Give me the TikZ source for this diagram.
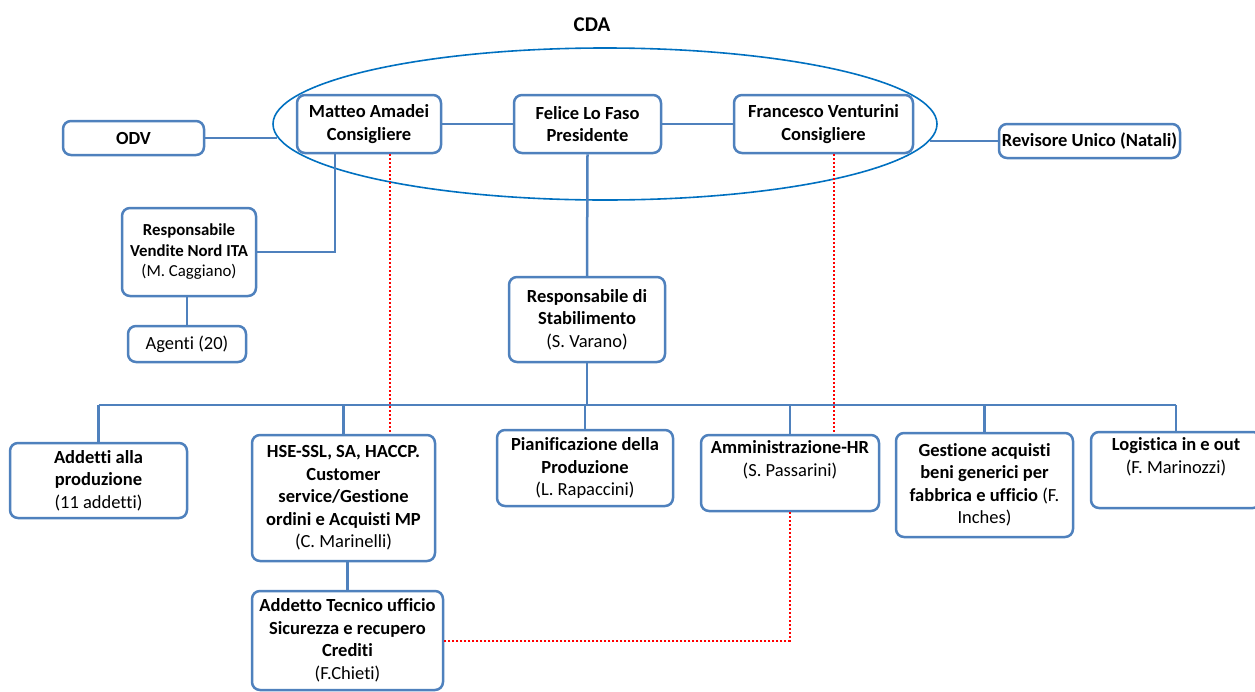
\documentclass[tikz,border=0pt]{standalone}
\usepackage{fontspec}
\setmainfont{Carlito}[Ligatures=NoCommon]
\usetikzlibrary{shapes.geometric}
\definecolor{boxblue}{RGB}{79,129,189}
\definecolor{ellblue}{RGB}{0,112,192}
\definecolor{dotred}{RGB}{255,0,0}
\begin{document}
\begin{tikzpicture}[x=1pt,y=-1pt,
  box/.style={draw=boxblue, line width=2.5pt, rounded corners=8pt, fill=white,
    inner sep=0pt, align=center, font=\fontsize{18.5}{22.5}\selectfont},
  smallbox/.style={box, font=\fontsize{16.8}{20.5}\selectfont},
  conn/.style={draw=boxblue, line width=2.5pt},
  reddot/.style={draw=dotred, line width=2pt, dash pattern=on 2pt off 2pt},
  ell/.style={draw=ellblue, line width=1.6pt, ellipse, inner sep=0pt}]
\useasboundingbox (0,0) rectangle (1255,691);

% CDA ellipse and title
\node[ell, minimum width=664, minimum height=152] (cda) at (605,124) {};
\node[font=\bfseries\fontsize{21}{25}\selectfont] (title) at (592,25) {CDA};

% top row
\node[box, minimum width=141, minimum height=34] (odv) at (133.5,138) {\textbf{ODV}};
\node[box, minimum width=144, minimum height=58] (matteo) at (369,124) {\textbf{Matteo Amadei}\\\textbf{Consigliere}};
\node[box, minimum width=147, minimum height=58] (felice) at (587.5,124) {\textbf{Felice Lo Faso}\\\textbf{Presidente}};
\node[box, minimum width=179, minimum height=58] (francesco) at (823.5,124) {\textbf{Francesco Venturini}\\\textbf{Consigliere}};
\node[box, minimum width=181, minimum height=34] (revisore) at (1089.5,141) {\textbf{Revisore Unico (Natali)}};

% second level
\node[smallbox, minimum width=134, minimum height=88] (vendite) at (189,252) {\textbf{Responsabile}\\\textbf{Vendite Nord ITA}\\(M. Caggiano)};
\node[box, minimum width=118, minimum height=36] (agenti) at (187,344) {Agenti (20)};
\node[box, minimum width=156, minimum height=85] (stab) at (587,319.5) {\textbf{Responsabile di}\\\textbf{Stabilimento}\\(S. Varano)};

% bottom row
\node[box, minimum width=177, minimum height=75] (addetti) at (98.5,480.5) {\textbf{Addetti alla}\\\textbf{produzione}\\(11 addetti)};
\node[box, minimum width=183, minimum height=126] (hse) at (343.5,498) {\textbf{HSE-SSL, SA, HACCP.}\\\textbf{Customer}\\\textbf{service/Gestione}\\\textbf{ordini e Acquisti MP}\\(C. Marinelli)};
\node[box, minimum width=176, minimum height=76] (pian) at (585,468) {\textbf{Pianificazione della}\\\textbf{Produzione}\\(L. Rapaccini)};
\node[box, minimum width=178, minimum height=76] (amm) at (790,473) {\textbf{Amministrazione-HR}\\(S. Passarini)\\\strut};
\node[box, minimum width=177, minimum height=104] (gest) at (984.5,485) {\textbf{Gestione acquisti}\\\textbf{beni generici per}\\\textbf{fabbrica e ufficio} (F.\\Inches)};
\node[box, minimum width=170, minimum height=76] (log) at (1176,470) {\textbf{Logistica in e out}\\(F. Marinozzi)\\\strut};
\node[box, minimum width=191, minimum height=99] (tec) at (347.5,640.5) {\textbf{Addetto Tecnico ufficio}\\\textbf{Sicurezza e recupero}\\\textbf{Crediti}\\(F.Chieti)};

% helper coordinates
\coordinate (odvE) at (277,138);
\coordinate (revW) at (930,141);
\coordinate (mv) at (335,0);
\coordinate (bus) at (0,405);
\coordinate (r1) at (390,0);
\coordinate (r2) at (834,0);

% blue connectors
\draw[conn] (odv.east) -- (odvE);
\draw[conn] (revisore.west) -- (revW);
\draw[conn] (matteo.east) -- (felice.west);
\draw[conn] (felice.east) -- (francesco.west);
\draw[conn] (matteo.south -| mv) |- (vendite.east);
\draw[conn] (agenti.north) -- (agenti.north |- vendite.south);
\draw[conn] (felice.south) -- (stab.north);
\draw[conn] (stab.south) -- (stab.south |- bus);
\draw[conn] (addetti.north |- bus) -- (log.north |- bus);
\draw[conn] (addetti.north) -- (addetti.north |- bus);
\draw[conn] (hse.north) -- (hse.north |- bus);
\draw[conn] (pian.north) -- (pian.north |- bus);
\draw[conn] (amm.north) -- (amm.north |- bus);
\draw[conn] (gest.north) -- (gest.north |- bus);
\draw[conn] (log.north) -- (log.north |- bus);
\draw[conn] (tec.north) -- (tec.north |- hse.south);

% red dotted connectors
\draw[reddot] (matteo.south -| r1) -- (hse.north -| r1);
\draw[reddot] (francesco.south -| r2) -- (amm.north -| r2);
\draw[reddot] (amm.south) |- (tec.east);
\end{tikzpicture}
\end{document}
